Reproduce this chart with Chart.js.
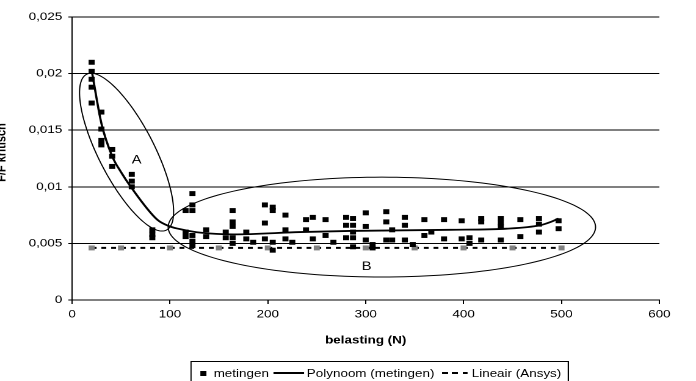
<!DOCTYPE html>
<html>
<head>
<meta charset="utf-8">
<script src="https://cdn.jsdelivr.net/npm/chart.js@4.4.1/dist/chart.umd.min.js"></script>
<style>
  html, body { margin: 0; padding: 0; background: #fff; overflow: hidden; }
  /* the reference picture is stretched sideways, so the whole stage is too */
  #stage { position: relative; width: 570px; height: 381px; transform: scaleX(1.22105); transform-origin: 0 0; }
  #wrap { position: absolute; left: 0; top: 0; width: 570px; height: 381px; }
  #legend {
    position: absolute; left: 156px; top: 361px; height: 22px; padding: 0 5px 0 7px;
    border: 1px solid #000; display: flex; align-items: center;
    font: 11px "Liberation Sans", Arial, sans-serif; color: #000; white-space: nowrap;
  }
  .mk { width: 5px; height: 5px; background: #000; margin-right: 6px; }
  .solid { width: 25px; height: 0; border-top: 2px solid #000; margin: 0 2px 0 4px; }
  .dash { width: 21.5px; height: 2px; margin: 0 3px 0 6px;
    background: repeating-linear-gradient(to right, #000 0 4.5px, transparent 4.5px 8.5px); }
</style>
</head>
<body>
<div id="stage">
  <div id="wrap"><canvas id="chart"></canvas></div>
  <div id="legend">
    <span class="mk"></span><span>metingen</span>
    <span class="solid"></span><span>Polynoom (metingen)</span>
    <span class="dash"></span><span>Lineair (Ansys)</span>
  </div>
</div>
<script>
// metingen (measurements): load in N and F/F kritisch
const metX = [
  20, 20, 20, 20, 20,
  30, 30, 30, 30,
  41, 41, 41,
  61, 61, 61,
  82, 82, 82,
  116, 116, 116,
  123, 123, 123, 123, 123, 123,
  137, 137,
  157, 157,
  164, 164, 164, 164, 164,
  178, 178,
  185,
  197, 197, 197,
  205, 205, 205, 205,
  218, 218, 218,
  225,
  239, 239,
  246, 246,
  259, 259,
  267,
  280, 280, 280,
  287, 287, 287, 287, 287,
  300, 300, 300,
  307, 307,
  321, 321, 321,
  327, 327,
  340, 340, 340,
  348,
  360, 360,
  367,
  380, 380,
  398, 398,
  406, 406,
  418, 418, 418,
  438, 438, 438, 438,
  458, 458,
  477, 477, 477,
  497, 497
];
const metY = [
  0.0210, 0.0202, 0.0195, 0.0188, 0.0174,
  0.0166, 0.0151, 0.0141, 0.0137,
  0.0133, 0.0127, 0.0118,
  0.0111, 0.0105, 0.0100,
  0.0062, 0.0058, 0.0055,
  0.0079, 0.0060, 0.0056,
  0.0094, 0.0084, 0.0079, 0.0057, 0.0052, 0.0048,
  0.0062, 0.0056,
  0.0060, 0.0055,
  0.0079, 0.0069, 0.0065, 0.0055, 0.0050,
  0.0060, 0.0054,
  0.0051,
  0.0084, 0.0068, 0.0054,
  0.0082, 0.0079, 0.0051, 0.0044,
  0.0075, 0.0062, 0.0054,
  0.0051,
  0.0071, 0.0062,
  0.0073, 0.0054,
  0.0071, 0.0057,
  0.0051,
  0.0073, 0.0066, 0.0055,
  0.0072, 0.0066, 0.0060, 0.0055, 0.0047,
  0.0077, 0.0065, 0.0053,
  0.0049, 0.0046,
  0.0078, 0.0069, 0.0053,
  0.0062, 0.0053,
  0.0073, 0.0066, 0.0053,
  0.0049,
  0.0071, 0.0057,
  0.0060,
  0.0071, 0.0054,
  0.0070, 0.0054,
  0.0055, 0.0050,
  0.0072, 0.0069, 0.0053,
  0.0072, 0.0068, 0.0065, 0.0053,
  0.0071, 0.0056,
  0.0072, 0.0067, 0.0060,
  0.0070, 0.0063
];

const polyX = [20, 30, 41, 50, 60, 87, 100, 114, 131, 165, 233, 284, 386, 444, 478, 489, 497];
const polyY = [0.0203, 0.0156, 0.0127, 0.0113, 0.0100, 0.0071, 0.0065, 0.0062, 0.00595, 0.0058, 0.0060, 0.0061, 0.0062, 0.0063, 0.0066, 0.0069, 0.0072];

// Lineair (Ansys)
const ansysX = [20, 50, 100, 150, 200, 250, 300, 350, 400, 450, 500];
const ansysY = [0.0046, 0.0046, 0.0046, 0.0046, 0.0046, 0.0046, 0.0046, 0.0046, 0.0046, 0.0046, 0.0046];

const xTicks = [0, 100, 200, 300, 400, 500, 600];
const yTicks = [0, 0.005, 0.01, 0.015, 0.02, 0.025];

// the two circled regions, in data units: centre + two half-diameters
const regions = [
  { label: 'A', cx: 55.7, cy: 0.01306, ax: 36.2, ay: -0.00697, bx: 31.6, by: 0, lx: 66, ly: 0.01235 },
  { label: 'B', cx: 316.5, cy: 0.00644, ax: 218.3, ay: 0, bx: 0, by: 0.00441, lx: 301, ly: 0.00294 }
];

const toPts = (xs, ys) => xs.map((v, i) => ({ x: v, y: ys[i] }));
const FONT = '"Liberation Sans", Arial, sans-serif';

const overlayPlugin = {
  id: 'overlay',
  afterDatasetsDraw(chart) {
    const { ctx, scales: { x, y } } = chart;
    ctx.save();
    ctx.strokeStyle = '#000';
    ctx.lineWidth = 1;
    regions.forEach(r => {
      ctx.beginPath();
      for (let i = 0; i <= 180; i++) {
        const t = i / 180 * Math.PI * 2;
        const px = x.getPixelForValue(r.cx + r.ax * Math.cos(t) + r.bx * Math.sin(t));
        const py = y.getPixelForValue(r.cy + r.ay * Math.cos(t) + r.by * Math.sin(t));
        if (i === 0) ctx.moveTo(px, py); else ctx.lineTo(px, py);
      }
      ctx.closePath();
      ctx.stroke();
    });
    ctx.fillStyle = '#000';
    ctx.font = '12px ' + FONT;
    ctx.textAlign = 'center';
    ctx.textBaseline = 'middle';
    regions.forEach(r => {
      ctx.fillText(r.label, x.getPixelForValue(r.lx), y.getPixelForValue(r.ly));
    });
    // y axis title, mostly cut off by the left edge as in the original
    ctx.translate(4.6, (chart.chartArea.top + chart.chartArea.bottom) / 2 - 6);
    ctx.rotate(-Math.PI / 2);
    ctx.font = 'bold 11px ' + FONT;
    ctx.textBaseline = 'alphabetic';
    ctx.fillText('F/F kritisch', 0, 0);
    ctx.restore();
  }
};

new Chart(document.getElementById('chart'), {
  type: 'scatter',
  data: {
    datasets: [
      {
        label: 'metingen',
        data: toPts(metX, metY),
        pointStyle: 'rect',
        pointRadius: 3.5,
        backgroundColor: '#000',
        borderWidth: 0
      },
      {
        label: 'Polynoom (metingen)',
        data: toPts(polyX, polyY),
        showLine: true,
        borderColor: '#000',
        borderWidth: 1.8,
        pointRadius: 0,
        cubicInterpolationMode: 'monotone'
      },
      {
        label: 'Lineair (Ansys)',
        data: toPts(ansysX, ansysY),
        showLine: true,
        borderColor: '#000',
        borderWidth: 2,
        borderDash: [4, 4],
        pointStyle: 'rect',
        pointRadius: 3.5,
        pointBackgroundColor: '#808080',
        pointBorderWidth: 0
      }
    ]
  },
  options: {
    responsive: true,
    maintainAspectRatio: false,
    animation: false,
    devicePixelRatio: 2,
    layout: { padding: { left: 0, right: 30, top: 17, bottom: 30 } },
    plugins: { legend: { display: false }, tooltip: { enabled: false } },
    scales: {
      x: {
        type: 'linear',
        min: 0,
        max: 600,
        afterFit: s => { s.height = 51; },
        afterBuildTicks: s => { s.ticks = xTicks.map(v => ({ value: v })); },
        ticks: { color: '#000', font: { family: FONT, size: 11 }, padding: 4, maxRotation: 0 },
        grid: { drawOnChartArea: false, drawTicks: true, tickLength: 4, color: '#000' },
        border: { color: '#000' },
        title: {
          display: true,
          text: 'belasting (N)',
          color: '#000',
          font: { family: FONT, size: 11, weight: 'bold' },
          padding: { top: 0, bottom: 4 }
        }
      },
      y: {
        min: 0,
        max: 0.025,
        afterFit: s => { s.width = 59; },
        afterBuildTicks: s => { s.ticks = yTicks.map(v => ({ value: v })); },
        ticks: {
          color: '#000',
          font: { family: FONT, size: 11 },
          padding: 5,
          callback: v => String(Math.round(v * 1000) / 1000).replace('.', ',')
        },
        grid: { color: '#000', tickLength: 3 },
        border: { color: '#000' }
      }
    }
  },
  plugins: [overlayPlugin]
});
</script>
</body>
</html>
